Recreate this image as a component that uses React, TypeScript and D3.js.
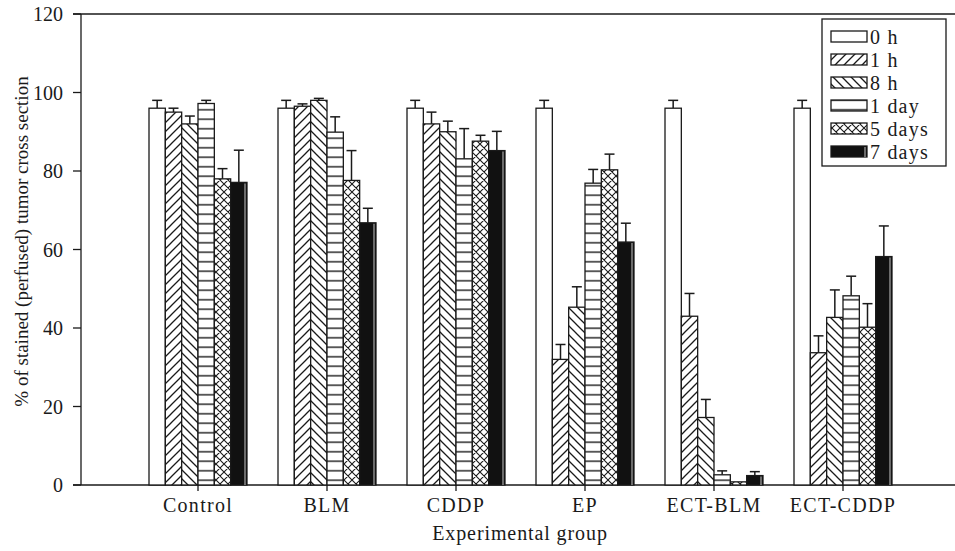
import React from 'react';
import * as d3 from 'd3';

const groups = ['Control', 'BLM', 'CDDP', 'EP', 'ECT-BLM', 'ECT-CDDP'];
const seriesNames = ['0 h', '1 h', '8 h', '1 day', '5 days', '7 days'];

// mean values per series, one per group
const h0 = [96, 96, 96, 96, 96, 96];
const h1 = [95, 96.5, 92, 32, 43, 33.7];
const h8 = [92, 98, 90, 45.3, 17.2, 42.7];
const d1 = [97.2, 89.9, 83.1, 76.9, 2.6, 48.2];
const d5 = [78, 77.6, 87.6, 80.3, 0.8, 40.2];
const d7 = [77.1, 66.8, 85.2, 61.9, 2.4, 58.2];

// upper error (SE) per series
const h0Err = [2, 2, 2, 2, 2, 2];
const h1Err = [1, 0.6, 3, 3.8, 5.8, 4.3];
const h8Err = [2, 0.5, 2.7, 5.2, 4.6, 7];
const d1Err = [0.8, 3.9, 7.7, 3.5, 1, 5];
const d5Err = [2.6, 7.6, 1.5, 4, 0, 6];
const d7Err = [8.2, 3.7, 4.9, 4.8, 1, 7.8];

const yTicks = [0, 20, 40, 60, 80, 100, 120];

const values = [h0, h1, h8, d1, d5, d7];
const errors = [h0Err, h1Err, h8Err, d1Err, d5Err, d7Err];
const fills = ['#fff', 'url(#p1h)', 'url(#p8h)', 'url(#p1d)', 'url(#p5d)', '#111'];

const W = 955;
const H = 551;
const FONT = '"Liberation Serif", "Times New Roman", serif';
const INK = '#1a1a1a';

export default function App() {
  const left = 81;
  const top = 14;
  const bottom = 485;

  const y = d3.scaleLinear().domain([0, 120]).range([bottom, top]);
  const x0 = d3.scaleBand<string>().domain(groups).range([133.5, 907.5]).padding(0);
  const groupW = 98;
  const x1 = d3.scaleBand<string>().domain(seriesNames).range([0, groupW]).padding(0);
  const off = (x0.bandwidth() - groupW) / 2;
  const bw = x1.bandwidth();

  const bars: React.ReactNode[] = [];
  groups.forEach((g, gi) => {
    seriesNames.forEach((s, si) => {
      const v = values[si][gi];
      const e = errors[si][gi];
      const bx = (x0(g) ?? 0) + off + (x1(s) ?? 0);
      const by = y(v);
      const cx = bx + bw / 2;
      bars.push(
        <g key={g + s}>
          {e > 0 && (
            <g stroke={INK} strokeWidth={1.5}>
              <line x1={cx} x2={cx} y1={by} y2={y(v + e)} />
              <line x1={cx - 5} x2={cx + 5} y1={y(v + e)} y2={y(v + e)} />
            </g>
          )}
          <rect x={bx} y={by} width={bw} height={bottom - by} fill={fills[si]}
            stroke={INK} strokeWidth={1.3} />
          {si === 5 && bottom - by > 3 && (
            <line x1={bx + bw - 2} x2={bx + bw - 2} y1={by + 1} y2={bottom}
              stroke="#aaa" strokeWidth={1.2} />
          )}
        </g>
      );
    });
  });

  const legX = 822;
  const legY = 19;
  const rowH = 23;

  return (
    <svg width={W} height={H} style={{ display: 'block', position: 'absolute', left: 0, top: 0 }}
      fontFamily={FONT}>
      <defs>
        <pattern id="p1h" patternUnits="userSpaceOnUse" width={9} height={9}>
          <rect width={9} height={9} fill="#fff" />
          <path d="M-2,2 l4,-4 M0,9 l9,-9 M7,11 l4,-4" stroke={INK} strokeWidth={1.3} />
        </pattern>
        <pattern id="p8h" patternUnits="userSpaceOnUse" width={9} height={9}>
          <rect width={9} height={9} fill="#fff" />
          <path d="M-2,7 l4,4 M0,0 l9,9 M7,-2 l4,4" stroke={INK} strokeWidth={1.3} />
        </pattern>
        <pattern id="p1d" patternUnits="userSpaceOnUse" width={10} height={9.5} y={bottom}>
          <rect width={10} height={9.5} fill="#fff" />
          <line x1={0} x2={10} y1={4.75} y2={4.75} stroke={INK} strokeWidth={1.4} />
        </pattern>
        <pattern id="p5d" patternUnits="userSpaceOnUse" width={8} height={8}>
          <rect width={8} height={8} fill="#fff" />
          <path d="M0,0 l8,8 M0,8 l8,-8 M-1,1 l2,-2 M7,9 l2,-2 M-1,7 l2,2 M7,-1 l2,2"
            stroke={INK} strokeWidth={1.1} />
        </pattern>
      </defs>

      {/* frame lines */}
      <line x1={73} x2={W} y1={top} y2={top} stroke={INK} strokeWidth={1.3} />
      <line x1={73} x2={W} y1={bottom} y2={bottom} stroke={INK} strokeWidth={1.3} />
      <line x1={left} x2={left} y1={top} y2={bottom} stroke={INK} strokeWidth={1.3} />

      {bars}

      {/* y axis */}
      {yTicks.map(t => (
        <g key={t}>
          <line x1={73} x2={left} y1={y(t)} y2={y(t)} stroke={INK} strokeWidth={1.3} />
          <text x={63} y={y(t)} dy="0.35em" textAnchor="end" fontSize={20} fill={INK}>{t}</text>
        </g>
      ))}
      <text transform="translate(21,241.5) rotate(-90)" textAnchor="middle"
        dy="0.35em" fontSize={19} fill={INK}>% of stained (perfused) tumor cross section</text>

      {/* x axis */}
      {groups.map(g => {
        const cx = (x0(g) ?? 0) + x0.bandwidth() / 2;
        return (
          <g key={g}>
            <line x1={cx} x2={cx} y1={bottom} y2={bottom + 6} stroke={INK} strokeWidth={1.3} />
            <text x={cx} y={512} textAnchor="middle" fontSize={20} letterSpacing={1.3}
              fill={INK}>{g}</text>
          </g>
        );
      })}
      <text x={520} y={540} textAnchor="middle" fontSize={20} letterSpacing={0.9}
        fill={INK}>Experimental group</text>

      {/* legend */}
      <rect x={legX} y={legY} width={124} height={147} fill="#fff" stroke={INK} strokeWidth={1.3} />
      {seriesNames.map((s, i) => {
        const cy = legY + 17.5 + i * rowH;
        return (
          <g key={s}>
            <rect x={831} y={cy - 5.5} width={36} height={11} fill={fills[i]} stroke={INK} strokeWidth={1.3} />
            {i === 5 && (
              <line x1={865} x2={865} y1={cy - 4.5} y2={cy + 5.5} stroke="#aaa" strokeWidth={1.2} />
            )}
            <text x={870} y={cy} dy="0.35em" fontSize={20} letterSpacing={1.2}
              fill={INK}>{s}</text>
          </g>
        );
      })}
    </svg>
  );
}
